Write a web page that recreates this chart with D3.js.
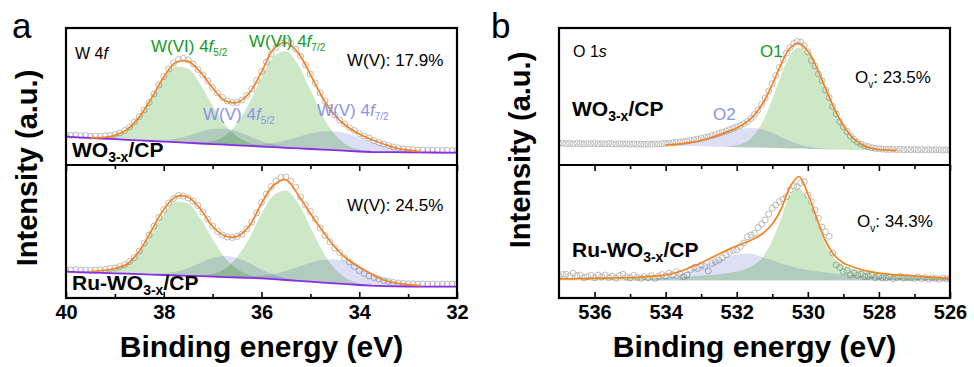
<!DOCTYPE html>
<html><head><meta charset="utf-8">
<script src="https://cdn.jsdelivr.net/npm/d3@7"></script>
<style>
body{margin:0;background:#fff}
svg text{font-family:"Liberation Sans",Arial,sans-serif}
</style>
</head><body>
<svg id="c" width="974" height="367"></svg>
<script>
// ---------------- DATA ----------------
// Panel a : W 4f   (binding energy, eV)
const wMajorTicks = [40, 38, 36, 34, 32];
const wMinorTicks = [39, 37, 35, 33];
const wPointStart = 40.0;      // data points every 0.1 eV
const wCurveStart = 39.5;      // fitted curves every 0.25 eV
const wBgStart = 40.0;         // background every 0.25 eV

const wTopData = [30.0,29.6,29.9,29.2,29.5,28.8,29.0,28.6,29.2,29.5,
  30.5,32.0,34.5,38.0,43.0,48.5,55.0,62.5,71.0,80.0,
  88.5,96.0,102.0,105.5,106.5,105.0,101.0,95.5,90.0,84.0,
  77.5,72.0,67.5,64.0,62.5,62.5,65.0,69.5,76.0,84.5,
  93.5,103.0,111.0,117.5,122.0,124.0,121.5,116.0,109.0,100.0,
  91.0,82.0,72.0,64.0,57.0,50.0,45.0,41.0,37.5,34.5,
  31.5,29.0,27.0,24.5,22.5,21.0,19.5,18.0,17.0,16.0,
  15.5,15.2,15.0,14.8,15.0,14.6,14.8,14.5,14.7,14.4,14.6];
const wTopFit = [27.4,27.5,29.6,35.6,48.1,67.1,88.0,102.7,103.6,92.8,77.2,64.5,62.5,72,93,116.2,122.5,112.1,90.4,67.3,49.5,38.5,31,25.5,21,17,14.8,13.5];
const wTopBg = [28.3,27.7,27.1,26.4,25.8,25.2,24.6,24.0,23.4,22.8,22.1,21.5,20.9,20.3,19.7,19.1,18.4,17.8,17.2,16.6,16.0,15.4,14.8,14.1,13.5,13.0,12.9,12.8,12.7,12.6,12.5,12.4,12.3];
const wTopVI52 = [0.3,1.1,3.8,10.4,23.3,42.5,62.9,75.7,74.2,59.1,38.3,20.2,8.7,3.0,0.9,0.2,0,0,0,0,0,0,0,0,0,0,0,0];
const wTopVI72 = [0,0,0,0,0,0,0,0,0.2,0.8,3.0,9.0,21.8,43.2,69.4,90.8,96.6,83.6,58.9,33.7,15.7,5.9,1.8,0.5,0,0,0,0];
const wTopV52 = [0,0,0,0,0.2,0.5,1.5,3.6,7.1,11.4,15.0,15.9,13.8,9.7,5.6,2.6,1.0,0.3,0.1,0,0,0,0,0,0,0,0,0];
const wTopV72 = [0,0,0,0,0,0,0,0,0,0,0,0.1,0.4,1.0,2.2,4.4,7.6,11.5,15.4,18.2,19.0,17.3,13.9,9.9,6.2,3.4,1.6,0.7];

const wBotData = [28.2,28.0,28.4,27.8,28.0,27.6,28.0,28.3,28.6,29.5,
  30.0,31.5,33.5,36.5,40.5,47.0,55.0,63.0,72.0,80.5,
  88.5,95.0,99.5,102.5,102.0,100.0,97.0,92.5,86.0,79.0,
  72.0,66.5,63.0,61.0,60.5,61.5,64.0,69.0,76.0,85.0,
  95.5,104.0,111.5,117.0,120.5,121.0,117.0,111.0,101.0,93.0,
  86.5,79.0,70.0,62.5,56.0,50.0,45.5,40.0,36.0,31.5,
  27.5,24.5,22.0,20.5,19.0,17.5,16.5,15.5,15.0,14.6,
  14.3,14.2,14.0,14.2,13.9,14.1,13.8,14.0,13.8,14.0,13.9];
const wBotFit = [26.6,27.5,29.5,34,47,67.5,88.5,101.2,100.8,89,71.5,62,61.5,72,94.5,113,118.3,103,84.5,67,51,39,31,24,18,15,13.3,12.3];
const wBotBg = [26.3,25.9,25.5,25.1,24.7,24.3,23.8,23.4,23.0,22.6,22.2,21.8,21.4,20.9,20.5,20.1,19.6,18.8,18.0,17.1,16.3,15.4,14.6,13.8,13.0,12.3,11.9,11.7,11.5,11.4,11.4,11.3,11.3];
const wBotVI52 = [0.3,1.1,3.7,10.1,22.7,41.4,61.3,73.8,72.3,57.6,37.3,19.7,8.4,2.9,0.8,0.2,0,0,0,0,0,0,0,0,0,0,0,0];
const wBotVI72 = [0,0,0,0,0,0,0,0,0.2,0.8,2.8,8.3,20.3,40.0,64.4,84.2,89.6,77.6,54.6,31.2,14.6,5.5,1.7,0.4,0,0,0,0];
const wBotV52 = [0,0,0,0,0.1,0.4,1.4,3.6,7.7,13.2,18.5,21.0,19.4,14.6,8.9,4.4,1.8,0.6,0.2,0,0,0,0,0,0,0,0,0];
const wBotV72 = [0,0,0,0,0,0,0,0,0,0,0,0,0.4,1.2,2.6,5.2,9.0,14.0,18.9,22.8,24.0,22.3,18.2,13.1,8.3,4.6,2.3,1.0];

// Panel b : O 1s
const oMajorTicks = [536, 534, 532, 530, 528, 526];
const oMinorTicks = [535, 533, 531, 529, 527];
const oPointStart = 537.0;
const oTopCurveStart = 534.0;
const oBotCurveStart = 537.0;

const oTopData = [21.5,21.8,21.3,21.6,21.2,21.7,21.4,21.0,21.5,21.3,
  21.6,21.1,21.4,21.0,21.5,21.2,20.9,21.3,21.0,21.2,
  20.8,21.1,20.8,21.0,20.7,21.0,20.8,21.1,21.0,21.3,
  21.4,21.8,22.2,22.6,23.0,23.5,24.0,24.6,25.2,25.9,
  26.6,27.4,28.3,29.3,30.4,31.6,32.8,34.0,35.3,36.6,
  38.0,39.5,41.2,43.4,46.5,50.5,55.0,60.5,67.0,74.0,
  81.5,89.5,97.5,105.5,112.0,117.5,121.5,123.5,123.0,119.5,
  113.0,104.5,99.0,91.0,84.5,75.0,67.5,58.5,51.0,43.5,
  38.0,33.5,29.0,25.5,22.8,20.8,19.4,18.3,17.3,16.6,
  16.2,15.9,15.7,15.5,15.8,15.4,15.6,15.2,15.5,15.3,
  15.6,15.2,15.4,15.1,15.4,15.0,15.3,15.1,14.9,15.2,15.0];
const oTopFit = [20.2,20.6,21.5,22.8,24.8,27.3,30.1,33.5,37.1,42.1,50.1,62.7,80.5,100.8,117.0,121.7,113.9,97.4,76.6,56.2,39.5,28.0,21.1,17.3,15.5,14.8,14.6];
const oTopBg = [19.5,19.3,19.1,18.9,18.7,18.5,18.2,18.0,17.8,17.6,17.4,17.2,17.0,16.8,16.6,16.4,16.2,15.9,15.7,15.5,15.3,15.1,14.9,14.7,14.5,14.5,14.5];
const oTopO1 = [0,0,0,0,0,0,0.1,0.6,1.9,5.4,13.2,27.5,48.6,73.0,93.1,101,95.4,80.4,60.4,40.5,24.2,12.9,6.2,2.6,1.0,0.3,0.1];
const oTopO2 = [0.7,1.3,2.4,3.9,6.1,8.8,11.8,14.9,17.4,19.1,19.5,18.0,14.9,11.0,7.3,4.3,2.3,1.1,0.5,0.2,0,0,0,0,0,0,0];

const oBotData = [21.5,23.5,23.7,22.0,24.7,22.5,23.0,20.5,21.3,22.8,
  20.2,23.0,21.0,23.0,20.5,21.8,19.8,22.5,23.7,21.0,
  20.3,22.6,20.8,19.7,21.5,20.2,22.4,19.7,21.8,23.4,
  22.0,24.7,23.2,26.3,24.5,21.3,23.0,28.5,30.6,29.5,
  33.0,31.5,27.0,34.5,36.3,38.0,40.3,43.5,45.7,47.5,
  48.0,51.3,55.0,61.3,63.0,64.7,70.5,74.0,78.0,84.0,
  89.7,93.0,96.5,99.0,101.3,108.0,112.0,111.3,115.0,116.3,
  103.0,96.5,88.0,79.7,71.0,66.3,61.7,45.0,33.0,30.5,
  26.3,27.5,23.0,25.0,22.8,24.0,21.5,21.7,22.9,20.5,
  21.8,20.0,20.0,21.2,19.4,20.5,21.6,19.8,20.7,20.2,
  19.5,21.0,19.3,20.4,19.0,20.1,19.5,18.8,19.9,19.2,19.6];
const oBotFit = [19,19.1,19.3,19.4,19.6,19.8,20,20.2,20.4,20.7,21.3,22.2,23,25,27.8,31.5,35,39.5,44,48.3,52,55.5,59.5,65,74,89,111,121.5,104,80,57,42.5,35,31.3,28.5,26.3,25,24,23.2,22.6,22,21.3,20.7,20.1,19.6];
const oBotBaseline = 17.5;
const oBotO1 = [1.0,1.1,1.2,1.3,1.4,1.55,1.7,1.85,2.0,2.2,2.5,2.7,3.0,3.4,3.8,4.3,4.8,5.5,6.3,7.5,9,11.5,16,24,40,62,86,92,81,60,36,22,15.5,12,10,8.6,7.6,6.8,6.1,5.5,5.0,4.5,4.0,3.6,3.2];
const oBotO2 = [0,0,0,0,0,0,0,0.2,0.4,0.7,1.2,2,3,4.8,7.5,10.5,14,18,21,24,26,27,26,23,20.5,17,14.5,12,10.5,9.2,8,7,6,5.3,4.6,4,3.5,3.1,2.8,2.5,2.2,1.9,1.7,1.5,1.3];

// ---------------- STYLE ----------------
const C = {
  orange: "#f5821f", purple: "#8a2be8", green: "#cde8c7", lav: "#dde0f5",
  greenText: "#169a1c", lavText: "#8a93e4", circle: "#b0b0b0"
};
const PSTEP = 0.1, CSTEP = 0.25;

const svg = d3.select("#c");

function rich(x, y, parts, size, opts = {}) {
  const t = svg.append("text").attr("x", x).attr("y", y)
    .attr("font-size", size).attr("fill", opts.fill || "#000")
    .attr("font-weight", opts.bold ? "bold" : "normal");
  if (opts.anchor) t.attr("text-anchor", opts.anchor);
  let cur = 0;
  parts.forEach(p => {
    const ts = t.append("tspan").text(p.t);
    const want = p.dy || 0;
    if (want - cur !== 0) ts.attr("dy", want - cur);
    cur = want;
    if (p.size) ts.attr("font-size", p.size);
    if (p.it) ts.attr("font-style", "italic");
  });
  return t;
}

function drawPanel(P) {
  const x = d3.scaleLinear().domain(P.domain).range([P.left, P.right]);
  const subs = [
    { top: 28, bottom: 165, max: 137 },
    { top: 165, bottom: 298, max: 133 }
  ];
  P.spectra.forEach((S, k) => {
    const sb = subs[k];
    const y = d3.scaleLinear().domain([0, sb.max]).range([sb.bottom, sb.top]);
    const cid = P.id + "clip" + k;
    svg.append("clipPath").attr("id", cid).append("rect")
      .attr("x", P.left).attr("y", sb.top).attr("width", P.right - P.left).attr("height", sb.bottom - sb.top);
    const g = svg.append("g").attr("clip-path", `url(#${cid})`);
    const baseAt = E => S.bg ? S.bg[Math.round((S.bgStart - E) / CSTEP)] : S.base;
    const eC = i => S.curveStart - i * CSTEP;
    // data points
    g.selectAll(null).data(S.data).join("circle")
      .attr("cx", (d, i) => x(P.pointStart - i * PSTEP)).attr("cy", d => y(d))
      .attr("r", 3).attr("fill", "none").attr("stroke", C.circle).attr("stroke-width", 0.85);
    // components
    S.comps.forEach(cp => {
      const area = d3.area().curve(d3.curveMonotoneX)
        .x((d, i) => x(eC(i)))
        .y0((d, i) => y(baseAt(eC(i))))
        .y1((d, i) => y(baseAt(eC(i)) + d));
      g.append("path").datum(cp.v).attr("d", area).attr("fill", cp.c)
        .style("mix-blend-mode", "multiply");
    });
    // background line
    if (S.bg && S.drawBg) {
      const ln = d3.line().x((d, i) => x(S.bgStart - i * CSTEP)).y(d => y(d));
      g.append("path").datum(S.bg).attr("d", ln).attr("fill", "none")
        .attr("stroke", C.purple).attr("stroke-width", 1.8);
    }
    // fit envelope
    const fl = d3.line().curve(d3.curveCatmullRom.alpha(0.5)).x((d, i) => x(eC(i))).y(d => y(d));
    g.append("path").datum(S.fit).attr("d", fl).attr("fill", "none")
      .attr("stroke", C.orange).attr("stroke-width", 1.7);
  });

  // ticks: bottom (inward), divider (downward into lower plot)
  const fmt = d3.format("d");
  const ax = svg.append("g").attr("transform", "translate(0,298)")
    .call(d3.axisBottom(x).tickValues(P.major).tickSize(-6).tickPadding(7).tickFormat(fmt));
  ax.select(".domain").remove();
  ax.selectAll("text").attr("font-size", 20).attr("font-weight", "bold")
    .attr("font-family", "Liberation Sans, Arial, sans-serif").attr("fill", "#000");
  ax.selectAll("line").attr("stroke-width", 1.6);
  const axm = svg.append("g").attr("transform", "translate(0,298)")
    .call(d3.axisBottom(x).tickValues(P.minor).tickSize(-4).tickFormat(""));
  axm.select(".domain").remove();
  axm.selectAll("line").attr("stroke-width", 1.6);
  const axd = svg.append("g").attr("transform", "translate(0,165)")
    .call(d3.axisBottom(x).tickValues(P.major).tickSize(6).tickFormat(""));
  axd.select(".domain").remove();
  axd.selectAll("line").attr("stroke-width", 1.6);
  const axd2 = svg.append("g").attr("transform", "translate(0,165)")
    .call(d3.axisBottom(x).tickValues(P.minor).tickSize(4).tickFormat(""));
  axd2.select(".domain").remove();
  axd2.selectAll("line").attr("stroke-width", 1.6);

  // frame
  svg.append("rect").attr("x", P.left).attr("y", 28).attr("width", P.right - P.left).attr("height", 270)
    .attr("fill", "none").attr("stroke", "#000").attr("stroke-width", 2.2);
  svg.append("line").attr("x1", P.left).attr("x2", P.right).attr("y1", 165).attr("y2", 165)
    .attr("stroke", "#000").attr("stroke-width", 2.2);

  // axis titles
  svg.append("text").attr("x", (P.left + P.right) / 2).attr("y", 357).attr("text-anchor", "middle")
    .attr("font-size", 30).attr("font-weight", "bold").text("Binding energy (eV)");
  svg.append("text").attr("transform", `translate(${P.ylabX},${P.ylabY}) rotate(-90)`)
    .attr("text-anchor", "middle").attr("font-size", 29).attr("font-weight", "bold")
    .text("Intensity (a.u.)");
  svg.append("text").attr("x", P.letterX).attr("y", 38).attr("font-size", 35).text(P.letter);
}

drawPanel({
  id: "a", letter: "a", letterX: 12, domain: [40, 32], left: 66, right: 457,
  major: wMajorTicks, minor: wMinorTicks, pointStart: wPointStart,
  ylabX: 37, ylabY: 168,
  spectra: [
    { data: wTopData, fit: wTopFit, curveStart: wCurveStart, bg: wTopBg, bgStart: wBgStart, drawBg: true,
      comps: [{ v: wTopVI52, c: C.green }, { v: wTopVI72, c: C.green }, { v: wTopV52, c: C.lav }, { v: wTopV72, c: C.lav }] },
    { data: wBotData, fit: wBotFit, curveStart: wCurveStart, bg: wBotBg, bgStart: wBgStart, drawBg: true,
      comps: [{ v: wBotVI52, c: C.green }, { v: wBotVI72, c: C.green }, { v: wBotV52, c: C.lav }, { v: wBotV72, c: C.lav }] }
  ]
});
drawPanel({
  id: "b", letter: "b", letterX: 491, domain: [537, 526], left: 559, right: 950,
  major: oMajorTicks, minor: oMinorTicks, pointStart: oPointStart,
  ylabX: 530, ylabY: 150,
  spectra: [
    { data: oTopData, fit: oTopFit, curveStart: oTopCurveStart, bg: oTopBg, bgStart: oTopCurveStart, drawBg: false,
      comps: [{ v: oTopO1, c: C.green }, { v: oTopO2, c: C.lav }] },
    { data: oBotData, fit: oBotFit, curveStart: oBotCurveStart, bg: null, base: oBotBaseline,
      comps: [{ v: oBotO1, c: C.green }, { v: oBotO2, c: C.lav }] }
  ]
});

// ---------------- ANNOTATIONS ----------------
const sub = (t, dy, size) => ({ t, dy, size });
rich(75, 59, [{ t: "W 4" }, { t: "f", it: true }], 16);
rich(151, 52, [{ t: "W(VI) 4" }, { t: "f", it: true }, sub("5/2", 4, 10)], 17, { fill: C.greenText });
rich(249, 47, [{ t: "W(VI) 4" }, { t: "f", it: true }, sub("7/2", 4, 10)], 17, { fill: C.greenText });
rich(347, 66, [{ t: "W(V): 17.9%" }], 17);
rich(203, 120, [{ t: "W(V) 4" }, { t: "f", it: true }, sub("5/2", 4, 10)], 17, { fill: C.lavText });
rich(317, 116, [{ t: "W(V) 4" }, { t: "f", it: true }, sub("7/2", 4, 10)], 17, { fill: C.lavText });
rich(72, 157, [{ t: "WO" }, sub("3-x", 5, 14), { t: "/CP" }], 21, { bold: true });
rich(347, 211, [{ t: "W(V): 24.5%" }], 17);
rich(72, 290, [{ t: "Ru-WO" }, sub("3-x", 5, 14), { t: "/CP" }], 21, { bold: true });

rich(573, 57, [{ t: "O 1" }, { t: "s", it: true }], 16);
rich(760, 57, [{ t: "O1" }], 17, { fill: C.greenText });
rich(855, 83, [{ t: "O" }, sub("v", 5, 10), { t: ": 23.5%" }], 17);
rich(572, 116, [{ t: "WO" }, sub("3-x", 5, 14), { t: "/CP" }], 21, { bold: true });
rich(713, 120, [{ t: "O2" }], 17, { fill: C.lavText });
rich(857, 227, [{ t: "O" }, sub("v", 5, 10), { t: ": 34.3%" }], 17);
rich(572, 257, [{ t: "Ru-WO" }, sub("3-x", 5, 14), { t: "/CP" }], 21, { bold: true });
</script>
</body></html>
